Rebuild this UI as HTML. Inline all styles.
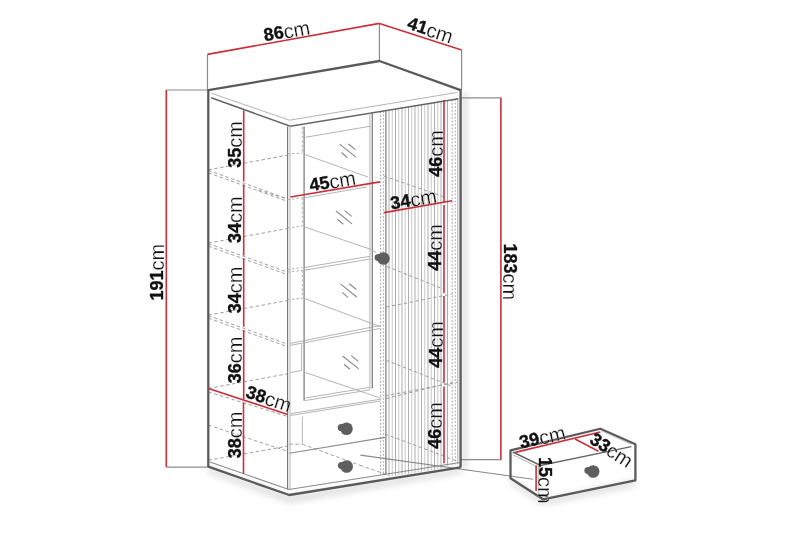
<!DOCTYPE html>
<html><head><meta charset="utf-8"><style>
html,body{margin:0;padding:0;background:#fff;width:800px;height:533px;overflow:hidden}
svg{display:block;will-change:transform}
.o{stroke:#5a5a5a;stroke-width:2.3;fill:none;stroke-linejoin:round}
.m{stroke:#8a8a8a;stroke-width:1.1;fill:none}
.m2{stroke:#777;stroke-width:1.2;fill:none}
.l{stroke:#acacac;stroke-width:0.9;fill:none}
.g{stroke:#8c8c8c;stroke-width:1.2;fill:none}
.s1{stroke:#a6a6a6;stroke-width:0.9}
.tb{stroke:#666;stroke-width:1.45;fill:none}
.d2{stroke:#a8a8a8;stroke-width:0.9;stroke-dasharray:2.5 2}
.s2{stroke:#c2c2c2;stroke-width:0.9}
.dot{stroke:#aaa;stroke-width:1;stroke-dasharray:2 1.5}
.d{stroke:#a0a0a0;stroke-width:1;stroke-dasharray:3.5 2.5}
.r{stroke:#c8303a;stroke-width:1.6;fill:none}
.k{fill:#5e5e5e}
.rf{stroke:#8a8a8a;stroke-width:1.15;stroke-linecap:round}
text{font-family:"Liberation Sans",sans-serif;text-anchor:middle;dominant-baseline:central;fill:#111}
.b{font-weight:bold;font-size:18px;stroke:#111;stroke-width:0.35px}
.c{font-weight:normal;font-size:20px;fill:#111;stroke:#fff;stroke-width:0.2px}
</style></head><body>
<svg width="800" height="533" viewBox="0 0 800 533">
<defs><filter id="blur" x="-20%" y="-100%" width="140%" height="300%"><feGaussianBlur stdDeviation="3"/></filter>
<filter id="blur2" x="-200%" y="-10%" width="500%" height="120%"><feGaussianBlur stdDeviation="2.5"/></filter></defs>
<rect width="800" height="533" fill="#fff"/>
<polygon points="208.3,467 289.2,496 462,467.5 462,473 289.2,503 208.3,473" fill="#dedede" stroke="none" filter="url(#blur)"/>
<rect x="461" y="92" width="7" height="376" fill="#e6e6e6" filter="url(#blur2)"/>
<polygon points="510.5,478.2 543,499.3 635.6,480.3 635.6,486 543,505 510.5,484" fill="#dcdcdc" stroke="none" filter="url(#blur)"/>
<line x1="207.50" y1="54.40" x2="207.50" y2="90.00" class="g"/>
<line x1="379.40" y1="23.40" x2="379.40" y2="61.00" class="g"/>
<line x1="461.60" y1="50.10" x2="461.60" y2="89.50" class="g"/>
<line x1="166.30" y1="90.00" x2="208.00" y2="90.00" class="g"/>
<line x1="166.30" y1="467.10" x2="208.00" y2="467.10" class="g"/>
<line x1="461.00" y1="97.80" x2="501.00" y2="97.80" class="g"/>
<line x1="461.00" y1="459.70" x2="501.00" y2="459.70" class="g"/>
<line x1="389.00" y1="109.94" x2="389.00" y2="476.41" class="s1"/>
<line x1="392.25" y1="109.41" x2="392.25" y2="475.92" class="s2"/>
<line x1="395.50" y1="108.87" x2="395.50" y2="475.43" class="s1"/>
<line x1="398.75" y1="108.34" x2="398.75" y2="474.94" class="s2"/>
<line x1="402.00" y1="107.80" x2="402.00" y2="474.45" class="s1"/>
<line x1="405.25" y1="107.26" x2="405.25" y2="473.96" class="s2"/>
<line x1="408.50" y1="106.73" x2="408.50" y2="473.47" class="s1"/>
<line x1="411.75" y1="106.19" x2="411.75" y2="472.98" class="s2"/>
<line x1="415.00" y1="105.66" x2="415.00" y2="472.49" class="s1"/>
<line x1="418.25" y1="105.12" x2="418.25" y2="472.00" class="s2"/>
<line x1="421.50" y1="104.58" x2="421.50" y2="471.51" class="s1"/>
<line x1="424.75" y1="104.05" x2="424.75" y2="471.02" class="s2"/>
<line x1="428.00" y1="103.51" x2="428.00" y2="470.53" class="s1"/>
<line x1="431.25" y1="102.98" x2="431.25" y2="470.04" class="s2"/>
<line x1="434.50" y1="102.44" x2="434.50" y2="469.55" class="s1"/>
<line x1="437.75" y1="101.90" x2="437.75" y2="469.06" class="s2"/>
<line x1="441.00" y1="101.37" x2="441.00" y2="468.57" class="s1"/>
<line x1="447.50" y1="100.30" x2="447.50" y2="465.59" class="s1"/>
<line x1="457.80" y1="98.60" x2="457.80" y2="464.03" class="s1"/>
<line x1="380.60" y1="111.33" x2="380.60" y2="475.67" class="dot"/>
<line x1="383.30" y1="110.88" x2="383.30" y2="475.27" class="dot"/>
<line x1="452.20" y1="99.52" x2="452.20" y2="464.88" class="dot"/>
<line x1="455.20" y1="99.03" x2="455.20" y2="464.43" class="dot"/>
<polyline points="211.20,93.20 289.40,120.20 457.40,92.40" class="l"/>
<polyline points="211.20,97.80 290.40,126.20 458.40,98.70" class="tb"/>
<line x1="287.60" y1="126.50" x2="287.60" y2="489.50" class="m2"/>
<line x1="290.00" y1="126.00" x2="290.00" y2="489.50" class="l"/>
<line x1="304.10" y1="126.50" x2="304.10" y2="400.80" class="m2"/>
<line x1="372.30" y1="112.70" x2="372.30" y2="388.60" class="m2"/>
<line x1="369.90" y1="113.10" x2="369.90" y2="389.50" class="l"/>
<line x1="385.90" y1="110.45" x2="385.90" y2="474.87" class="m2"/>
<line x1="305.40" y1="137.30" x2="370.40" y2="126.20" class="l"/>
<line x1="302.30" y1="126.80" x2="302.30" y2="153.10" class="d2"/>
<line x1="302.30" y1="197.80" x2="302.30" y2="226.00" class="d2"/>
<line x1="302.30" y1="270.30" x2="302.30" y2="298.40" class="d2"/>
<line x1="287.50" y1="153.90" x2="302.30" y2="153.10" class="d2"/>
<line x1="287.50" y1="199.70" x2="302.30" y2="197.80" class="d2"/>
<line x1="287.50" y1="228.00" x2="302.30" y2="226.00" class="d2"/>
<line x1="287.50" y1="269.50" x2="302.30" y2="267.50" class="d2"/>
<line x1="287.50" y1="272.20" x2="302.30" y2="270.30" class="d2"/>
<line x1="287.50" y1="299.60" x2="302.30" y2="298.40" class="d2"/>
<line x1="304.40" y1="154.40" x2="368.00" y2="177.00" class="l"/>
<line x1="304.40" y1="197.80" x2="367.00" y2="186.90" class="l"/>
<line x1="304.40" y1="226.90" x2="371.90" y2="249.70" class="l"/>
<line x1="304.40" y1="267.50" x2="370.00" y2="256.25" class="l"/>
<line x1="304.40" y1="270.30" x2="370.00" y2="259.00" class="l"/>
<line x1="304.40" y1="298.40" x2="379.80" y2="326.50" class="l"/>
<line x1="290.30" y1="343.40" x2="379.80" y2="325.50" class="l"/>
<line x1="290.30" y1="345.30" x2="379.80" y2="328.50" class="l"/>
<line x1="301.60" y1="344.40" x2="301.60" y2="370.60" class="l"/>
<line x1="290.30" y1="372.50" x2="301.60" y2="370.60" class="l"/>
<line x1="305.30" y1="372.50" x2="380.00" y2="397.90" class="l"/>
<line x1="305.30" y1="398.00" x2="370.00" y2="387.30" class="l"/>
<line x1="305.30" y1="400.60" x2="370.00" y2="389.80" class="l"/>
<line x1="290.50" y1="415.50" x2="380.00" y2="401.00" class="l"/>
<line x1="290.50" y1="413.70" x2="380.00" y2="399.25" class="l"/>
<line x1="340.20" y1="144.60" x2="355.60" y2="156.90" class="rf"/>
<line x1="348.80" y1="144.20" x2="355.20" y2="149.40" class="rf"/>
<line x1="341.70" y1="152.80" x2="346.90" y2="157.30" class="rf"/>
<line x1="336.30" y1="211.30" x2="351.70" y2="223.60" class="rf"/>
<line x1="344.90" y1="210.90" x2="351.30" y2="216.10" class="rf"/>
<line x1="337.80" y1="219.50" x2="343.00" y2="224.00" class="rf"/>
<line x1="341.00" y1="284.40" x2="356.40" y2="296.70" class="rf"/>
<line x1="349.60" y1="284.00" x2="356.00" y2="289.20" class="rf"/>
<line x1="342.50" y1="292.60" x2="347.70" y2="297.10" class="rf"/>
<line x1="343.00" y1="356.30" x2="358.40" y2="368.60" class="rf"/>
<line x1="351.60" y1="355.90" x2="358.00" y2="361.10" class="rf"/>
<line x1="344.50" y1="364.50" x2="349.70" y2="369.00" class="rf"/>
<line x1="208.40" y1="169.80" x2="287.40" y2="155.20" class="d"/>
<line x1="208.40" y1="170.30" x2="287.30" y2="198.80" class="d"/>
<line x1="208.40" y1="172.80" x2="287.30" y2="201.30" class="d"/>
<line x1="208.40" y1="243.10" x2="287.40" y2="228.50" class="d"/>
<line x1="208.40" y1="243.60" x2="287.30" y2="272.10" class="d"/>
<line x1="208.40" y1="246.10" x2="287.30" y2="274.60" class="d"/>
<line x1="208.40" y1="315.10" x2="287.40" y2="300.50" class="d"/>
<line x1="208.40" y1="315.60" x2="287.30" y2="344.10" class="d"/>
<line x1="208.40" y1="318.10" x2="287.30" y2="346.60" class="d"/>
<line x1="208.40" y1="388.40" x2="287.40" y2="373.80" class="d"/>
<line x1="208.40" y1="391.90" x2="287.30" y2="416.40" class="d"/>
<line x1="258.20" y1="190.00" x2="287.30" y2="199.00" class="d"/>
<line x1="208.40" y1="425.10" x2="287.30" y2="451.20" class="d"/>
<line x1="208.40" y1="460.20" x2="287.30" y2="446.20" class="d"/>
<line x1="289.40" y1="444.20" x2="302.40" y2="444.20" class="d"/>
<line x1="302.40" y1="444.20" x2="360.00" y2="465.30" class="d"/>
<line x1="360.00" y1="465.30" x2="385.00" y2="474.00" class="d"/>
<line x1="302.30" y1="416.50" x2="302.30" y2="443.50" class="l"/>
<line x1="289.40" y1="453.20" x2="385.00" y2="437.40" class="m"/>
<line x1="384.00" y1="176.10" x2="444.00" y2="196.80" class="d"/>
<line x1="387.00" y1="266.50" x2="444.50" y2="289.50" class="d"/>
<line x1="372.30" y1="250.30" x2="376.00" y2="252.50" class="l"/>
<line x1="386.10" y1="307.00" x2="452.40" y2="294.00" class="d"/>
<line x1="386.10" y1="360.30" x2="452.40" y2="386.40" class="d"/>
<line x1="386.10" y1="398.40" x2="452.40" y2="382.40" class="d"/>
<line x1="385.00" y1="434.00" x2="457.00" y2="461.00" class="d"/>
<line x1="385.00" y1="395.80" x2="457.00" y2="382.30" class="d"/>
<circle cx="383.40" cy="258.50" r="6.30" class="k"/>
<circle cx="378.20" cy="257.50" r="3.60" class="k"/>
<circle cx="346.50" cy="428.70" r="6.30" class="k"/>
<circle cx="341.30" cy="427.70" r="3.60" class="k"/>
<circle cx="346.70" cy="466.50" r="6.30" class="k"/>
<circle cx="341.50" cy="465.50" r="3.60" class="k"/>
<line x1="360.40" y1="455.10" x2="533.20" y2="479.30" class="m"/>
<polyline points="208.30,90.20 379.40,61.00 460.60,90.20" class="o"/>
<line x1="208.30" y1="89.50" x2="208.30" y2="467.00" class="o"/>
<line x1="460.60" y1="89.00" x2="460.60" y2="467.50" class="o"/>
<polyline points="208.30,466.70 289.20,495.00 460.60,467.40" class="o"/>
<polyline points="210.00,462.00 288.90,489.50 460.00,462.50" class="m"/>
<polygon points="510.5,450.4 600.3,428.75 635.4,444.2 635.4,480.3 543,499.3 510.5,478.2" fill="#fff" class="o"/>
<polyline points="512.70,452.00 540.50,465.50 631.30,446.60" class="tb"/>
<polyline points="512.70,454.80 540.50,468.30" class="l"/>
<line x1="601.30" y1="430.60" x2="631.30" y2="444.20" class="l"/>
<line x1="538.80" y1="466.00" x2="538.80" y2="498.00" class="l"/>
<circle cx="593.20" cy="471.50" r="6.30" class="k"/>
<circle cx="588.00" cy="470.50" r="3.60" class="k"/>
<line x1="515.20" y1="452.40" x2="600.30" y2="432.00" class="r"/>
<line x1="575.00" y1="439.00" x2="598.50" y2="451.30" class="r"/>
<line x1="536.10" y1="465.60" x2="536.10" y2="490.90" class="r"/>
<line x1="207.50" y1="54.40" x2="379.40" y2="23.40" class="r"/>
<line x1="379.40" y1="23.40" x2="461.60" y2="50.10" class="r"/>
<line x1="166.30" y1="90.00" x2="166.30" y2="467.10" class="r"/>
<line x1="500.90" y1="97.80" x2="500.90" y2="459.70" class="r"/>
<line x1="243.70" y1="110.50" x2="243.70" y2="181.40" class="r"/>
<line x1="243.70" y1="184.40" x2="243.70" y2="255.60" class="r"/>
<line x1="243.70" y1="258.40" x2="243.70" y2="326.80" class="r"/>
<line x1="243.70" y1="330.10" x2="243.70" y2="399.40" class="r"/>
<line x1="243.50" y1="402.30" x2="243.50" y2="473.60" class="r"/>
<line x1="208.50" y1="388.60" x2="287.70" y2="414.40" class="r"/>
<line x1="290.40" y1="197.00" x2="379.90" y2="181.90" class="r"/>
<line x1="384.00" y1="212.60" x2="452.20" y2="200.70" class="r"/>
<line x1="444.00" y1="100.00" x2="444.00" y2="202.80" class="r"/>
<line x1="444.00" y1="205.10" x2="444.00" y2="293.30" class="r"/>
<line x1="444.00" y1="296.00" x2="444.00" y2="382.40" class="r"/>
<line x1="444.00" y1="386.40" x2="444.00" y2="463.30" class="r"/>
<text x="287.01" y="31.27" transform="rotate(-9.8 286.75 32.75)"><tspan class="b">86</tspan><tspan class="c">cm</tspan></text>
<text x="430.00" y="29.56" transform="rotate(18.2 429.30 30.95)"><tspan class="b">41</tspan><tspan class="c">cm</tspan></text>
<text x="157.50" y="272.50" transform="rotate(-90 156.90 272.70)"><tspan class="b">191</tspan><tspan class="c">cm</tspan></text>
<text x="510.25" y="271.00" transform="rotate(90 509.65 271.30)"><tspan class="b">183</tspan><tspan class="c">cm</tspan></text>
<text x="235.85" y="145.20" transform="rotate(-90 235.05 145.10)"><tspan class="b">35</tspan><tspan class="c">cm</tspan></text>
<text x="235.30" y="220.60" transform="rotate(-90 234.60 220.40)"><tspan class="b">34</tspan><tspan class="c">cm</tspan></text>
<text x="235.30" y="290.85" transform="rotate(-90 234.60 290.65)"><tspan class="b">34</tspan><tspan class="c">cm</tspan></text>
<text x="235.30" y="360.85" transform="rotate(-90 234.60 360.65)"><tspan class="b">36</tspan><tspan class="c">cm</tspan></text>
<text x="235.60" y="435.45" transform="rotate(-90 234.90 435.65)"><tspan class="b">38</tspan><tspan class="c">cm</tspan></text>
<text x="268.75" y="398.48" transform="rotate(18.0 268.30 399.05)"><tspan class="b">38</tspan><tspan class="c">cm</tspan></text>
<text x="332.72" y="181.44" transform="rotate(-9.8 332.70 182.15)"><tspan class="b">45</tspan><tspan class="c">cm</tspan></text>
<text x="413.85" y="199.59" transform="rotate(-9.9 413.20 201.00)"><tspan class="b">34</tspan><tspan class="c">cm</tspan></text>
<text x="436.45" y="154.65" transform="rotate(-90 435.75 154.15)"><tspan class="b">46</tspan><tspan class="c">cm</tspan></text>
<text x="436.75" y="248.00" transform="rotate(-90 435.75 248.50)"><tspan class="b">44</tspan><tspan class="c">cm</tspan></text>
<text x="436.85" y="345.95" transform="rotate(-90 435.75 345.45)"><tspan class="b">44</tspan><tspan class="c">cm</tspan></text>
<text x="436.75" y="426.00" transform="rotate(-90 435.75 426.50)"><tspan class="b">46</tspan><tspan class="c">cm</tspan></text>
<text x="542.76" y="437.51" transform="rotate(-13.3 542.15 438.80)"><tspan class="b">39</tspan><tspan class="c">cm</tspan></text>
<text x="611.35" y="449.31" transform="rotate(33 610.15 449.85)"><tspan class="b">33</tspan><tspan class="c">cm</tspan></text>
<text x="545.30" y="479.90" transform="rotate(90 545.10 480.10)"><tspan class="b">15</tspan><tspan class="c">cm</tspan></text>
</svg>
</body></html>
